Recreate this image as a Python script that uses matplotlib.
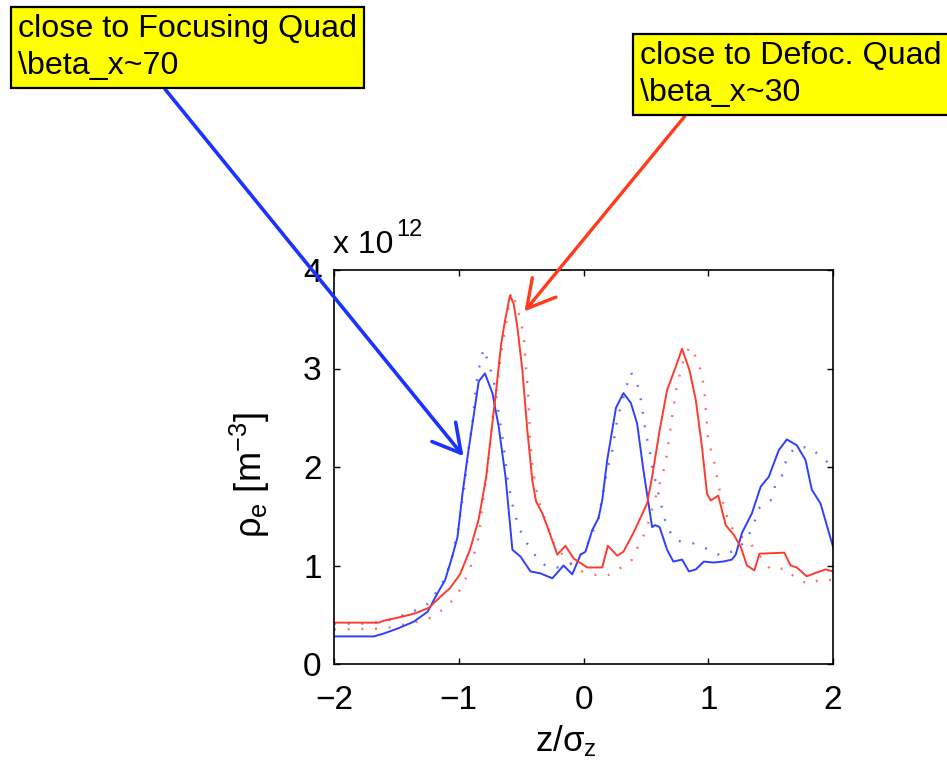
import matplotlib
matplotlib.use("Agg")
import matplotlib.pyplot as plt

plt.rcParams['font.family'] = ['Liberation Sans', 'DejaVu Sans']
plt.rcParams['mathtext.fontset'] = 'custom'
plt.rcParams['mathtext.rm'] = 'Liberation Sans'
plt.rcParams['mathtext.it'] = 'Liberation Sans'
plt.rcParams['mathtext.bf'] = 'Liberation Sans:bold'

# ---- data (units of 1e12 m^-3) ----
blue_x = [-2.0, -1.68, -1.60, -1.49, -1.36, -1.25, -1.17, -1.11, -1.05, -1.01, -0.97, -0.93,
          -0.89, -0.84, -0.79, -0.73, -0.68, -0.625, -0.57, -0.505, -0.425, -0.345, -0.25,
          -0.16, -0.09, -0.024, 0.016, 0.07, 0.12, 0.15, 0.19, 0.26, 0.32, 0.38, 0.43, 0.48,
          0.55, 0.575, 0.61, 0.67, 0.72, 0.79, 0.845, 0.90, 0.965, 1.04, 1.12, 1.19, 1.22,
          1.27, 1.35, 1.42, 1.485, 1.565, 1.63, 1.71, 1.78, 1.83, 1.90, 2.0]
blue_y = [0.28, 0.28, 0.31, 0.36, 0.43, 0.53, 0.72, 0.85, 1.10, 1.29, 1.73, 2.10,
          2.44, 2.87, 2.95, 2.75, 2.41, 1.90, 1.16, 1.09, 0.94, 0.92, 0.87,
          1.00, 0.91, 1.11, 1.14, 1.36, 1.48, 1.66, 2.07, 2.60, 2.75, 2.65, 2.44, 1.97,
          1.39, 1.41, 1.39, 1.16, 1.04, 1.06, 0.94, 0.96, 1.04, 1.03, 1.04, 1.06, 1.11,
          1.33, 1.53, 1.80, 1.90, 2.17, 2.28, 2.22, 2.07, 1.77, 1.63, 1.19]

blue_dot_x = [-2.0, -1.75, -1.6, -1.48, -1.37, -1.25, -1.18, -1.12, -1.06, -1.0, -0.95, -0.92,
              -0.89, -0.86, -0.83, -0.80, -0.76, -0.72, -0.68, -0.64, -0.61, -0.57, -0.52,
              -0.465, -0.40, -0.30, -0.20, -0.10, -0.016, 0.016, 0.12, 0.19, 0.23, 0.27,
              0.34, 0.38, 0.43, 0.46, 0.50, 0.53, 0.55, 0.61, 0.64, 0.67, 0.75, 0.87, 0.99,
              1.10, 1.23, 1.31, 1.365, 1.405, 1.50, 1.54, 1.60, 1.63, 1.70, 1.81, 1.91, 2.0]
blue_dot_y = [0.41, 0.41, 0.43, 0.48, 0.53, 0.61, 0.73, 0.85, 1.05, 1.40, 1.85, 2.20,
              2.45, 2.85, 3.05, 3.20, 3.05, 2.88, 2.55, 2.22, 1.89, 1.62, 1.39,
              1.25, 1.12, 0.99, 0.98, 1.02, 1.12, 1.17, 1.48, 1.97, 2.16, 2.48,
              2.80, 2.96, 2.85, 2.68, 2.34, 2.17, 2.00, 1.68, 1.53, 1.38, 1.25, 1.23, 1.17,
              1.10, 1.16, 1.27, 1.42, 1.58, 1.66, 1.82, 1.93, 2.10, 2.20, 2.20, 2.10, 2.00]

red_x = [-2.0, -1.64, -1.6, -1.49, -1.36, -1.24, -1.15, -1.07, -0.99, -0.91, -0.84, -0.78,
         -0.74, -0.70, -0.66, -0.63, -0.59, -0.56, -0.53, -0.49, -0.45, -0.41, -0.38, -0.33,
         -0.28, -0.21, -0.145, -0.078, 0.03, 0.15, 0.195, 0.27, 0.32, 0.40, 0.51, 0.55,
         0.61, 0.67, 0.74, 0.79, 0.85, 0.90, 0.95, 0.99, 1.02, 1.08, 1.14, 1.205, 1.26,
         1.31, 1.37, 1.41, 1.61, 1.66, 1.71, 1.79, 1.87, 1.94, 2.0]
red_y = [0.42, 0.42, 0.44, 0.47, 0.51, 0.57, 0.68, 0.77, 0.91, 1.16, 1.47, 1.90,
         2.34, 2.78, 3.25, 3.48, 3.74, 3.66, 3.42, 2.98, 2.37, 1.86, 1.65, 1.53,
         1.36, 1.11, 1.20, 1.07, 0.98, 0.98, 1.20, 1.10, 1.14, 1.33, 1.63, 1.90,
         2.37, 2.78, 3.02, 3.20, 2.98, 2.68, 2.20, 1.73, 1.66, 1.71, 1.41, 1.31, 1.19,
         1.00, 0.95, 1.12, 1.13, 1.00, 0.98, 0.89, 0.93, 0.96, 0.94]

red_dot_x = [-2.0, -1.6, -1.48, -1.36, -1.23, -1.13, -1.03, -0.97, -0.91, -0.84, -0.81, -0.77,
             -0.73, -0.69, -0.66, -0.64, -0.58, -0.54, -0.51, -0.48, -0.46, -0.44, -0.43,
             -0.41, -0.36, -0.25, -0.145, -0.04, 0.07, 0.18, 0.28, 0.39, 0.44, 0.50, 0.61,
             0.65, 0.67, 0.71, 0.75, 0.80, 0.85, 0.91, 0.95, 0.97, 1.0, 1.04, 1.09, 1.165,
             1.23, 1.31, 1.43, 1.50, 1.62, 1.70, 1.81, 1.90, 2.0]
red_dot_y = [0.35, 0.36, 0.39, 0.42, 0.47, 0.55, 0.67, 0.80, 0.96, 1.29, 1.62, 1.97,
             2.48, 2.85, 3.15, 3.30, 3.78, 3.66, 3.51, 3.34, 3.00, 2.68, 2.34,
             2.00, 1.66, 1.25, 1.07, 0.95, 0.91, 0.89, 0.96, 1.06, 1.20, 1.35, 1.83,
             2.00, 2.14, 2.51, 2.83, 3.08, 3.22, 3.10, 2.93, 2.76, 2.26, 2.10, 1.77, 1.43,
             1.31, 1.27, 1.07, 0.96, 0.97, 0.87, 0.81, 0.86, 0.85]

x_ticks = [-2, -1, 0, 1, 2]
y_ticks = [0, 1, 2, 3, 4]
box_left_text = "close to Focusing Quad\n\\beta_x~70"
box_right_text = "close to Defoc. Quad\n\\beta_x~30"
blue_tip = (-0.962, 2.11)
red_tip = (-0.473, 3.58)

BLUE = '#2f3fff'
RED = '#ff3a2e'

W, H = 947, 772
fig = plt.figure(figsize=(W / 100, H / 100), dpi=100)
ax = fig.add_axes([334 / W, 1 - 664 / H, (833 - 334) / W, (664 - 270) / H])

ax.plot(blue_dot_x, blue_dot_y, color=BLUE, lw=1.7, ls=(0, (0.8, 5)), alpha=0.75)
ax.plot(red_dot_x, red_dot_y, color=RED, lw=1.7, ls=(0, (0.8, 5)), alpha=0.75)
ax.plot(blue_x, blue_y, color=BLUE, lw=1.4)
ax.plot(red_x, red_y, color=RED, lw=1.4)

ax.set_xlim(-2, 2)
ax.set_ylim(0, 4)
ax.set_xticks(x_ticks)
ax.set_yticks(y_ticks)
ax.set_xticklabels(['\u2212' + str(-t) if t < 0 else str(t) for t in x_ticks])
ax.set_yticklabels([str(t) for t in y_ticks])
ax.tick_params(direction='in', length=4.5, width=1.0, top=True, right=True,
               labelsize=24, colors='black')
ax.tick_params(axis='x', pad=15)
ax.tick_params(axis='y', pad=9)
for s in ax.spines.values():
    s.set_linewidth(1.2)

ax.set_xlabel(r'$\mathrm{z/\sigma_z}$', fontsize=25)
ax.xaxis.set_label_coords(0.465, -0.15)
ax.set_ylabel(r'$\mathrm{\rho_e\ [m^{-3}]}$', fontsize=26)
ax.yaxis.set_label_coords(-0.125, 0.48)

# exponent label
fig.text(333 / W, 1 - 253 / H, 'x 10', fontsize=23, ha='left', va='baseline')
fig.text(396 / W, 1 - 236 / H, '12', fontsize=17, ha='left', va='baseline')

# annotations
bbox = dict(boxstyle='square,pad=0.22', fc='#ffff00', ec='black', lw=1.6)
ax.annotate(box_left_text, xy=blue_tip, xycoords='data',
            xytext=(18, H - 14), textcoords='figure pixels',
            ha='left', va='top', fontsize=23.2, linespacing=1.32, bbox=bbox,
            annotation_clip=False,
            arrowprops=dict(arrowstyle='->,head_length=0.9,head_width=0.5',
                            mutation_scale=22, color='#1a33ff', lw=2.6,
                            relpos=(0.415, 0.0), shrinkA=0, shrinkB=0))
ax.annotate(box_right_text, xy=red_tip, xycoords='data',
            xytext=(640, H - 41), textcoords='figure pixels',
            ha='left', va='top', fontsize=23.2, linespacing=1.32, bbox=bbox,
            annotation_clip=False,
            arrowprops=dict(arrowstyle='->,head_length=0.9,head_width=0.5',
                            mutation_scale=22, color='#ff3b1a', lw=2.4,
                            relpos=(0.17, 0.0), shrinkA=0, shrinkB=0))

fig.savefig('out.png', dpi=100)
